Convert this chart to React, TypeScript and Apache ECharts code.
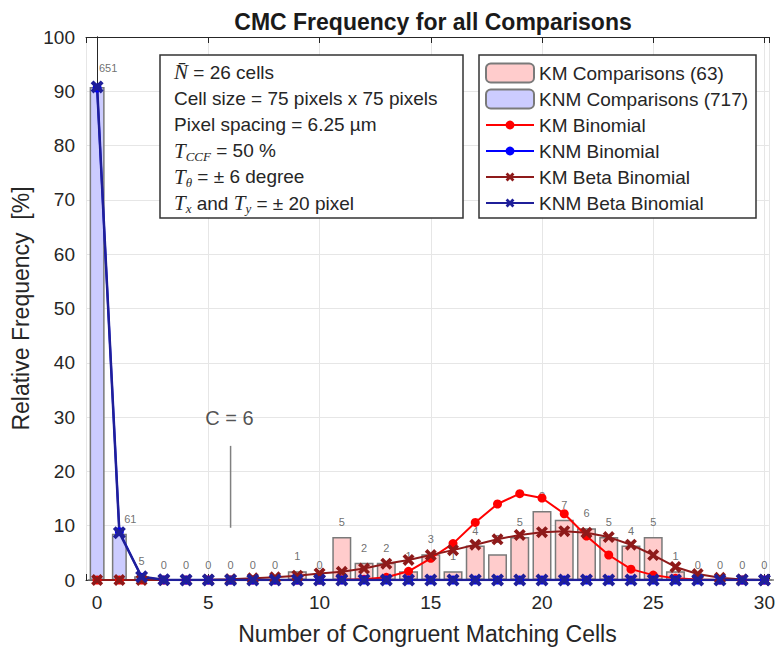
import React, { useEffect, useRef } from 'react';
import * as echarts from 'echarts';

// x = number of congruent matching cells
const xValues = [0, 1, 2, 3, 4, 5, 6, 7, 8, 9, 10, 11, 12, 13, 14, 15, 16, 17, 18, 19, 20, 21, 22, 23, 24, 25, 26, 27, 28, 29, 30];
// counts printed above the bars
const countLabels = [651, 61, 5, 0, 0, 0, 0, 0, 0, 1, 0, 5, 2, 2, 1, 3, 1, 4, 3, 5, 8, 7, 6, 5, 4, 5, 1, 0, 0, 0, 0];
// relative frequency [%]
const kmPct = [0, 0, 0, 0, 0, 0, 0, 0, 0, 1.59, 0, 7.94, 3.17, 3.17, 1.59, 4.76, 1.59, 6.35, 4.76, 7.94, 12.7, 11.11, 9.52, 7.94, 6.35, 7.94, 1.59, 0, 0, 0, 0];
const knmPct = [90.79, 8.51, 0.7, 0, 0, 0, 0, 0, 0, 0, 0, 0, 0, 0, 0, 0, 0, 0, 0, 0, 0, 0, 0, 0, 0, 0, 0, 0, 0, 0, 0];
const kmBinomial = [0, 0, 0, 0, 0, 0, 0, 0, 0, 0, 0, 0.05, 0.15, 0.5, 1.6, 4.0, 6.7, 10.6, 14.0, 15.9, 15.1, 12.2, 8.1, 4.6, 2.0, 0.9, 0.3, 0.1, 0, 0, 0];
const knmBinomial = [90.6, 8.9, 0.5, 0.02, 0, 0, 0, 0, 0, 0, 0, 0, 0, 0, 0, 0, 0, 0, 0, 0, 0, 0, 0, 0, 0, 0, 0, 0, 0, 0, 0];
const kmBetaBinomial = [0, 0, 0, 0, 0.02, 0.05, 0.15, 0.3, 0.5, 0.8, 1.2, 1.5, 2.1, 3.0, 3.7, 4.6, 5.5, 6.5, 7.5, 8.3, 8.8, 9.0, 8.7, 7.9, 6.5, 4.6, 2.4, 1.1, 0.4, 0.1, 0.02];
const knmBetaBinomial = [90.8, 8.7, 0.6, 0.05, 0, 0, 0, 0, 0, 0, 0, 0, 0, 0, 0, 0, 0, 0, 0, 0, 0, 0, 0, 0, 0, 0, 0, 0, 0, 0, 0];
// annotation "C = 6"
const cLine = [[6, 9.6], [6, 24.7]];
const cLabel = [5.95, 29.8];

const infoLines = [
  '{i|N\u0304} = 26 cells',
  'Cell size = 75 pixels x 75 pixels',
  'Pixel spacing = 6.25 \u00b5m',
  '{i|T}{s|CCF} = 50 %',
  '{i|T}{s|\u03b8} = \u00b1 6 degree',
  '{i|T}{s|x} and {i|T}{s|y} = \u00b1 20 pixel',
];

const FONT = '"Liberation Sans", Arial, sans-serif';
const SERIF = '"Liberation Serif", "Times New Roman", serif';
const TXT = '#262626';
const X_MARK = 'path://M0,2.2L2.2,0L5,2.8L7.8,0L10,2.2L7.2,5L10,7.8L7.8,10L5,7.2L2.2,10L0,7.8L2.8,5Z';

export default function App() {
  const ref = useRef<HTMLDivElement>(null);
  useEffect(() => {
    if (!ref.current) return;
    const chart = echarts.init(ref.current, undefined, { renderer: 'svg' });
    const pts = (arr: number[]) => xValues.map((x, i) => [x, arr[i]]);
    const labelData = xValues.map((x, i) => {
      const item: any = { value: [x, Math.max(kmPct[i], knmPct[i])] };
      if (i === 0) item.label = { offset: [11, -4] };
      if (i === 1) item.label = { offset: [11, 0] };
      return item;
    });
    const xAxisBase = {
      type: 'value',
      min: -0.5,
      max: 30.2,
      splitNumber: 6,
      axisLine: { show: true, onZero: false, lineStyle: { color: TXT, width: 1 } },
      axisTick: { show: true, inside: true, length: 6, lineStyle: { color: TXT } },
    };
    const yAxisBase = {
      type: 'value',
      min: 0,
      max: 100,
      interval: 10,
      axisLine: { show: true, lineStyle: { color: TXT, width: 1 } },
      axisTick: { show: true, inside: true, length: 6, lineStyle: { color: TXT } },
    };
    const infoRich = {
      i: { fontFamily: SERIF, fontStyle: 'italic', fontSize: 21, fill: TXT, lineHeight: 24 },
      s: { fontFamily: SERIF, fontStyle: 'italic', fontSize: 13, fill: TXT, verticalAlign: 'bottom' },
    };
    chart.setOption({
      animation: false,
      backgroundColor: '#ffffff',
      title: {
        text: 'CMC Frequency for all Comparisons',
        left: 428,
        textAlign: 'center',
        top: 5,
        textStyle: { fontFamily: FONT, fontWeight: 'bold', fontSize: 23, color: '#1a1a1a' },
      },
      grid: { left: 86, right: 8, top: 37, bottom: 76, containLabel: false },
      xAxis: [
        {
          ...xAxisBase,
          position: 'bottom',
          name: 'Number of Congruent Matching Cells',
          nameLocation: 'middle',
          nameGap: 42,
          nameTextStyle: { fontFamily: FONT, fontSize: 23, color: TXT },
          axisLabel: {
            fontFamily: FONT,
            fontSize: 19,
            color: TXT,
            margin: 13,
            formatter: (v: number) => (Math.abs(v % 5) < 1e-9 ? String(v) : ''),
          },
          splitLine: { show: true, lineStyle: { color: '#e6e6e6', width: 1 } },
        },
        {
          ...xAxisBase,
          position: 'top',
          axisLabel: { show: false },
          splitLine: { show: false },
        },
      ],
      yAxis: [
        {
          ...yAxisBase,
          position: 'left',
          name: 'Relative Frequency  [%]',
          nameLocation: 'middle',
          nameGap: 52,
          nameTextStyle: { fontFamily: FONT, fontSize: 23, color: TXT },
          axisLabel: { fontFamily: FONT, fontSize: 19, color: TXT, margin: 11 },
          splitLine: { show: true, lineStyle: { color: '#e6e6e6', width: 1 } },
        },
        {
          ...yAxisBase,
          position: 'right',
          axisLabel: { show: false },
          splitLine: { show: false },
        },
      ],
      legend: [
        {
          data: ['KM Comparisons (63)', 'KNM Comparisons (717)'],
          orient: 'vertical',
          left: 485,
          top: 60,
          padding: 0,
          itemWidth: 48,
          itemHeight: 19,
          itemGap: 0,
          selectedMode: false,
          z: 6,
          textStyle: { fontFamily: FONT, fontSize: 19, color: TXT, lineHeight: 26 },
        },
        {
          data: ['KM Binomial', 'KNM Binomial', 'KM Beta Binomial', 'KNM Beta Binomial'],
          orient: 'vertical',
          left: 485,
          top: 112,
          padding: 0,
          itemWidth: 48,
          itemHeight: 11,
          itemGap: 0,
          selectedMode: false,
          z: 6,
          textStyle: { fontFamily: FONT, fontSize: 19, color: TXT, lineHeight: 26 },
        },
      ],
      graphic: [
        {
          type: 'rect',
          z: 3,
          shape: { x: 479, y: 55, width: 277, height: 163 },
          style: { fill: '#ffffff', stroke: '#333333', lineWidth: 1.5 },
        },
        {
          type: 'rect',
          z: 10,
          shape: { x: 160, y: 55, width: 303, height: 163 },
          style: { fill: '#ffffff', stroke: '#333333', lineWidth: 1.5 },
        },
        ...infoLines.map((t, i) => ({
          type: 'text',
          z: 11,
          style: {
            text: t,
            x: 174,
            y: 72 + i * 26.2,
            fontFamily: FONT,
            fontSize: 19,
            fill: TXT,
            verticalAlign: 'middle',
            rich: infoRich,
          },
        })),
      ],
      series: [
        {
          name: 'KNM Comparisons (717)',
          type: 'bar',
          xAxisIndex: 1,
          barWidth: 15,
          data: pts(knmPct),
          itemStyle: { color: '#ccccff', borderColor: '#7a7a7a', borderWidth: 1.5 },
        },
        {
          name: 'KM Comparisons (63)',
          type: 'bar',
          xAxisIndex: 0,
          barWidth: 19,
          data: pts(kmPct),
          itemStyle: { color: '#ffcccc', borderColor: '#7a7a7a', borderWidth: 1.5 },
        },
        {
          name: 'counts',
          type: 'scatter',
          symbolSize: 1,
          silent: true,
          itemStyle: { color: 'rgba(0,0,0,0)' },
          data: labelData,
          label: {
            show: true,
            position: 'top',
            distance: 9,
            fontFamily: FONT,
            fontSize: 11,
            color: '#4a4a4a',
            textBorderWidth: 0,
            formatter: (p: any) => String(countLabels[p.dataIndex]),
          },
          z: 1,
        },
        {
          name: 'KM Binomial',
          type: 'line',
          data: pts(kmBinomial),
          symbol: 'circle',
          symbolSize: 9,
          showAllSymbol: true,
          lineStyle: { color: '#ff0000', width: 2 },
          itemStyle: { color: '#ff0000' },
        },
        {
          name: 'KNM Binomial',
          type: 'line',
          data: pts(knmBinomial),
          symbol: 'circle',
          symbolSize: 9,
          showAllSymbol: true,
          lineStyle: { color: '#0000ff', width: 2 },
          itemStyle: { color: '#0000ff' },
        },
        {
          name: 'KM Beta Binomial',
          type: 'line',
          data: pts(kmBetaBinomial),
          symbol: X_MARK,
          symbolSize: 12,
          showAllSymbol: true,
          lineStyle: { color: '#8e1a1a', width: 2 },
          itemStyle: { color: '#8e1a1a' },
        },
        {
          name: 'KNM Beta Binomial',
          type: 'line',
          data: pts(knmBetaBinomial),
          symbol: X_MARK,
          symbolSize: 13,
          showAllSymbol: true,
          lineStyle: { color: '#1f1f99', width: 2.5 },
          itemStyle: { color: '#1f1f99' },
        },
        {
          name: 'cline',
          type: 'line',
          data: cLine,
          symbol: 'none',
          silent: true,
          lineStyle: { color: '#808080', width: 1.5 },
        },
        {
          name: 'clabel',
          type: 'scatter',
          data: [cLabel],
          symbolSize: 1,
          silent: true,
          itemStyle: { color: 'rgba(0,0,0,0)' },
          label: {
            show: true,
            position: 'inside',
            formatter: 'C = 6',
            fontFamily: FONT,
            fontSize: 20,
            color: TXT,
          },
        },
      ],
    });
    return () => chart.dispose();
  }, []);
  return (
    <div
      ref={ref}
      style={{ position: 'fixed', left: 0, top: 0, width: 778, height: 656, background: '#fff' }}
    />
  );
}
